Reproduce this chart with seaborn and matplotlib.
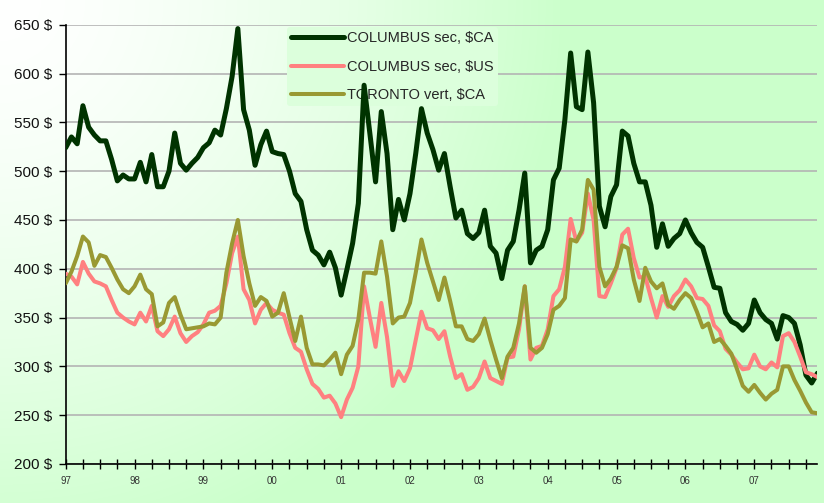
import numpy as np
import pandas as pd
import matplotlib
matplotlib.use('Agg')
import matplotlib.pyplot as plt
import seaborn as sns

# prix mensuels, janvier 1997 a decembre 2007
columbus_ca = [524, 535, 528, 567, 545, 537, 531, 531, 512, 490, 496, 492,
               492, 509, 489, 517, 484, 484, 500, 539, 508, 501, 508, 514,
               524, 529, 542, 537, 564, 597, 646, 563, 542, 506, 527, 541,
               520, 518, 517, 500, 477, 469, 440, 419, 414, 404, 417, 401,
               373, 399, 426, 467, 588, 539, 489, 561, 518, 440, 471, 450,
               477, 518, 564, 539, 522, 501, 518, 484, 452, 460, 436, 431,
               437, 460, 423, 416, 390, 419, 428, 460, 498, 406, 419, 423,
               440, 491, 503, 553, 621, 566, 563, 622, 570, 464, 443, 474,
               486, 541, 536, 508, 489, 489, 465, 422, 446, 423, 431, 436,
               450, 437, 427, 422, 402, 381, 380, 355, 346, 343, 337, 344,
               368, 355, 348, 344, 328, 352, 350, 344, 322, 291, 283, 293]

columbus_us = [395, 392, 384, 407, 395, 387, 385, 382, 368, 355, 350, 346,
               343, 355, 346, 362, 336, 331, 338, 351, 334, 325, 331, 335,
               343, 355, 357, 362, 385, 416, 433, 379, 368, 344, 358, 365,
               358, 355, 353, 334, 319, 315, 297, 282, 277, 268, 270, 262,
               248, 266, 278, 300, 382, 350, 320, 365, 330, 280, 295, 285,
               298, 327, 356, 339, 337, 328, 336, 310, 288, 292, 276, 279,
               288, 305, 288, 285, 282, 309, 310, 338, 382, 307, 319, 321,
               338, 372, 379, 402, 451, 428, 437, 477, 450, 372, 371, 385,
               401, 435, 441, 411, 391, 392, 370, 350, 372, 361, 372, 378,
               389, 382, 370, 369, 362, 342, 336, 318, 312, 304, 297, 298,
               312, 300, 297, 304, 299, 331, 334, 325, 310, 294, 292, 289]

toronto_ca = [385, 397, 413, 433, 427, 403, 414, 412, 401, 389, 379, 375,
              382, 394, 379, 374, 341, 345, 365, 371, 353, 338, 339, 340,
              341, 344, 343, 350, 396, 426, 450, 413, 385, 362, 371, 367,
              351, 355, 375, 350, 326, 351, 319, 302, 302, 301, 307, 314,
              292, 312, 321, 348, 396, 396, 395, 428, 392, 344, 350, 351,
              365, 396, 430, 406, 387, 368, 391, 367, 341, 341, 328, 326,
              333, 349, 327, 307, 288, 310, 319, 344, 382, 319, 314, 319,
              333, 358, 362, 370, 430, 428, 440, 491, 481, 402, 382, 390,
              402, 424, 421, 389, 367, 401, 387, 380, 385, 363, 359, 368,
              375, 370, 356, 340, 344, 325, 328, 321, 313, 297, 280, 274,
              281, 273, 266, 272, 276, 300, 300, 286, 275, 263, 253, 252]

series_names = ['COLUMBUS sec, $CA', 'COLUMBUS sec, $US', 'TORONTO vert, $CA']
series_colors = ['#003300', '#ff8080', '#999933']
series_widths = [3.6, 2.9, 2.9]

year_labels = ['97', '98', '99', '00', '01', '02', '03', '04', '05', '06', '07']
y_ticks = [200, 250, 300, 350, 400, 450, 500, 550, 600, 650]

df = pd.DataFrame({
    'mois': np.arange(len(columbus_ca)),
    series_names[0]: columbus_ca,
    series_names[1]: columbus_us,
    series_names[2]: toronto_ca,
})

sns.set_theme(style='white')
plt.rcParams['font.family'] = ['Liberation Sans', 'DejaVu Sans']

W, H = 824, 503
fig = plt.figure(figsize=(W / 100, H / 100), dpi=100)

# fond degrade blanc -> vert pale depuis le coin haut gauche
def bg_color(px, py):
    t = np.clip(np.hypot(px, py) / 560, 0, 1) ** 1.5
    white = np.array([1.0, 1.0, 1.0])
    green = np.array([0.80, 1.0, 0.80])
    return white * (1 - t[..., None]) + green * t[..., None]

yy, xx = np.mgrid[0:H, 0:W]
bg = fig.add_axes([0, 0, 1, 1], zorder=-10)
bg.imshow(bg_color(xx.astype(float), yy.astype(float)), aspect='auto', extent=(0, 1, 0, 1))
bg.axis('off')

x0, x1 = 65.7, 817.4
y_top, y_bot = 24.7, 464.0
ax = fig.add_axes([x0 / W, 1 - y_bot / H, (x1 - x0) / W, (y_bot - y_top) / H])
ax.set_facecolor('none')

for name, color, lw in zip(series_names, series_colors, series_widths):
    sns.lineplot(data=df, x='mois', y=name, color=color, linewidth=lw,
                 label=name, ax=ax, zorder=3)

ax.set_xlim(0, len(columbus_ca) - 1)
ax.set_ylim(y_ticks[0], y_ticks[-1])
ax.set_xlabel('')
ax.set_ylabel('')

ax.set_yticks(y_ticks)
ax.set_yticklabels([f'{v} $' for v in y_ticks], fontsize=11, color='#111111')
ax.set_xticks(np.arange(len(year_labels)) * 12)
ax.set_xticklabels(year_labels, fontsize=7, color='#333333')
ax.set_xticks(np.arange(0, len(columbus_ca), 3), minor=True)

ax.tick_params(axis='y', which='major', direction='out', length=5, width=1,
               color='black', pad=5, left=True)
ax.tick_params(axis='x', which='both', direction='inout', length=7, width=1,
               color='black', pad=5, bottom=True)

ax.yaxis.grid(True, color='#b4b4b4', linewidth=1.2, zorder=1)
ax.xaxis.grid(False)
for side in ['top', 'right']:
    ax.spines[side].set_visible(False)
for side in ['left', 'bottom']:
    ax.spines[side].set_color('black')
    ax.spines[side].set_linewidth(1.2)

leg = ax.legend(loc='upper left', bbox_to_anchor=(287 / W, 1 - 27 / H),
                bbox_transform=fig.transFigure, fontsize=10.5, frameon=True,
                handlelength=3.6, handletextpad=0.2, labelspacing=0.98,
                borderpad=0.3, borderaxespad=0)
frame = leg.get_frame()
frame.set_facecolor(bg_color(np.array(430.0), np.array(70.0)))
frame.set_edgecolor('none')
frame.set_alpha(1)
leg.set_zorder(2.5)

fig.savefig('out.png', dpi=100)
